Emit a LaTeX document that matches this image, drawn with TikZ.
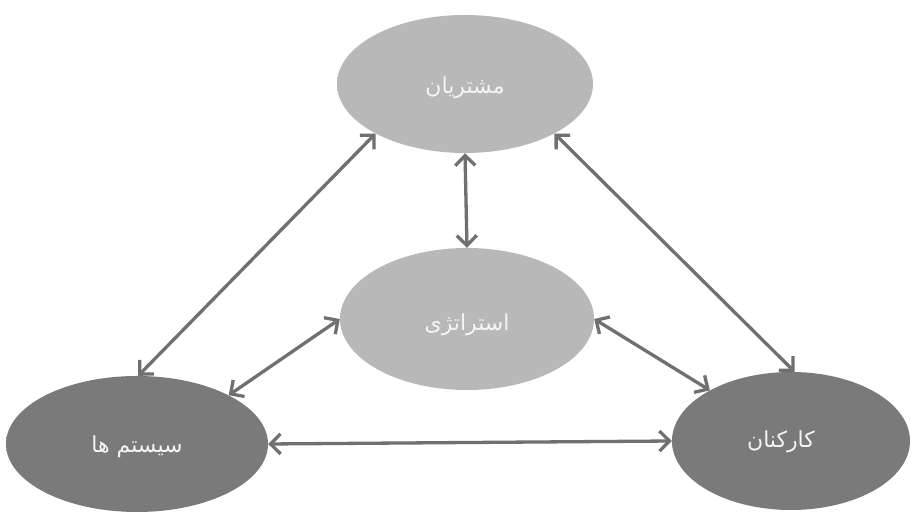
\documentclass[tikz,border=0pt]{standalone}
\usepackage{fontspec}
\newfontfamily\arabicfont[Script=Arabic]{DejaVu Sans}
\TeXXeTstate=1
\usetikzlibrary{arrows.meta,shapes.geometric}
\definecolor{lcA}{RGB}{184,184,184}
\definecolor{lcB}{RGB}{170,170,170}
\definecolor{lcC}{RGB}{148,148,148}
\definecolor{dcA}{RGB}{122,122,122}
\definecolor{dcB}{RGB}{108,108,108}
\definecolor{dcC}{RGB}{86,86,86}
\definecolor{arrc}{RGB}{112,112,112}
\definecolor{txtc}{RGB}{244,244,244}
\pgfdeclareradialshading{lightell}{\pgfpoint{0bp}{0bp}}{color(0bp)=(lcA); color(34bp)=(lcA); color(46bp)=(lcB); color(50bp)=(lcC)}
\pgfdeclareradialshading{darkell}{\pgfpoint{0bp}{0bp}}{color(0bp)=(dcA); color(34bp)=(dcA); color(46bp)=(dcB); color(50bp)=(dcC)}
\begin{document}
\begin{tikzpicture}[x=1pt,y=1pt,
  ell/.style={ellipse, inner sep=0pt, text=txtc,
    font=\arabicfont\fontsize{22}{26}\selectfont},
  lightnode/.style={ell, shading=lightell},
  darknode/.style={ell, shading=darkell},
  lbl/.style={text=txtc, font=\arabicfont\fontsize{22}{26}\selectfont},
  conn/.style={draw=arrc, line width=3.3pt,
    {Straight Barb[length=10pt,width=20pt]}-{Straight Barb[length=10pt,width=20pt]}}]
\useasboundingbox (0,0) rectangle (913,513);
\fill[white] (0,0) rectangle (913,513);
\node[lightnode, minimum width=256pt, minimum height=138pt] (cust) at (465,429) {};
\node[lightnode, minimum width=254pt, minimum height=142pt] (strat) at (467,194) {};
\node[darknode, minimum width=262pt, minimum height=136pt] (sys) at (137,69) {};
\node[darknode, minimum width=238pt, minimum height=138pt] (staff) at (791,72) {};
\node[lbl] (custlbl) at ([yshift=-4pt]cust.center) {\beginR مشتریان\endR};
\node[lbl] (stratlbl) at ([yshift=-6pt]strat.center) {\beginR استراتژی\endR};
\node[lbl] (syslbl) at ([yshift=-3pt]sys.center) {\beginR سیستم ها\endR};
\node[lbl] (stafflbl) at ([xshift=-10pt,yshift=-1pt]staff.center) {\beginR کارکنان\endR};
\draw[conn] (sys.89) -- (cust.209.5);
\draw[conn] (sys.28) -- (strat.180);
\draw[conn] (sys.0) -- (staff.180);
\draw[conn] (cust.-29) -- (staff.87);
\draw[conn] (strat.0) -- (staff.148.7);
\draw[conn] (cust.270) -- (strat.90);
\end{tikzpicture}
\end{document}
